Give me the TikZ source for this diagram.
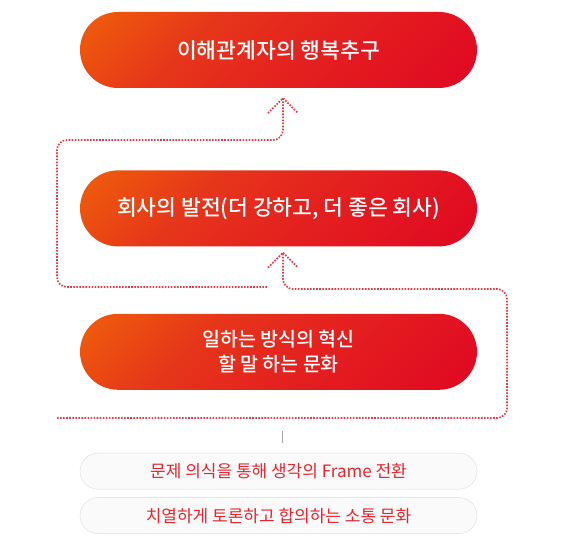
\documentclass[tikz,border=0pt]{standalone}
\usepackage{fontspec}
\setmainfont{Noto Sans CJK KR}[UprightFont={* Medium}]
\newfontfamily\pillfont{Noto Sans CJK KR}
\usetikzlibrary{positioning}
\definecolor{boxorange}{HTML}{EE5C0C}
\definecolor{boxmid}{HTML}{E6361A}
\definecolor{boxdeep}{HTML}{E4221F}
\definecolor{boxred}{HTML}{E00822}
\definecolor{loopred}{HTML}{E53A44}
\definecolor{pillgray}{HTML}{FAFAFA}
\definecolor{pillline}{HTML}{DCDCDC}
\definecolor{pilltext}{HTML}{E3262E}
\pgfdeclarehorizontalshading{boxfade}{100bp}{color(0bp)=(boxorange); color(16bp)=(boxorange);
  color(36bp)=(boxmid); color(54bp)=(boxdeep); color(84bp)=(boxred); color(100bp)=(boxred)}
\tikzset{main box/.style={rounded corners=38bp, minimum width=397bp, minimum height=76bp, inner sep=0pt,
    shade, shading=boxfade, shading angle=-45, text=white, align=center,
    font=\fontsize{21.5bp}{25bp}\selectfont},
  pill box/.style={draw=pillline, fill=pillgray, rounded corners=18bp, minimum width=397bp,
    minimum height=36bp, inner sep=0pt, text=pilltext, font=\pillfont\fontsize{17bp}{20bp}\selectfont},
  loop line/.style={draw=loopred, line width=1.7bp, dash pattern=on 1.6bp off 1.45bp, rounded corners=10bp},
}

\begin{document}
\begin{tikzpicture}[x=1bp,y=1bp]
  \useasboundingbox (0,0) rectangle (562,548);
  \node[main box] (goal) at (278.5,498) {이해관계자의 행복추구};
  \node[main box] (growth) [below = 82bp of goal] {회사의 발전(더 강하고, 더 좋은 회사)};
  \node[main box, font=\fontsize{19.5bp}{25bp}\selectfont] (innov) [below = 67bp of growth] {일하는 방식의 혁신\\할 말 하는 문화};
  \node[pill box] (frame) [below = 63bp of innov] {문제 의식을 통해 생각의 Frame 전환};
  \node[pill box] (talk) [below = 8bp of frame] {치열하게 토론하고 합의하는 소통 문화};

  % dotted loops
  \coordinate (tipA) at ([xshift=4.5bp,yshift=-10bp]goal.south);
  \coordinate (tipB) at ([xshift=4.5bp,yshift=-6bp]growth.south);
  \coordinate (startA) at (267,261);
  \coordinate (startB) at (57,130);
  \draw[loop line] (startA) -- (57,261) -- (57,408) -- (tipA |- 0,408) -- (tipA);
  \draw[loop line] (startB) -- (507,130) -- (507,259) -- (tipB |- 0,259) -- (tipB);
  \draw[loop line, sharp corners] ([shift={(-15,-15)}]tipA) -- (tipA) -- ([shift={(15,-15)}]tipA);
  \draw[loop line, sharp corners] ([shift={(-15,-15)}]tipB) -- (tipB) -- ([shift={(15,-15)}]tipB);

  \draw[gray!70, line width=1bp] ([xshift=3.5bp,yshift=10bp]frame.north) -- ([xshift=3.5bp,yshift=22bp]frame.north);
\end{tikzpicture}
\end{document}
